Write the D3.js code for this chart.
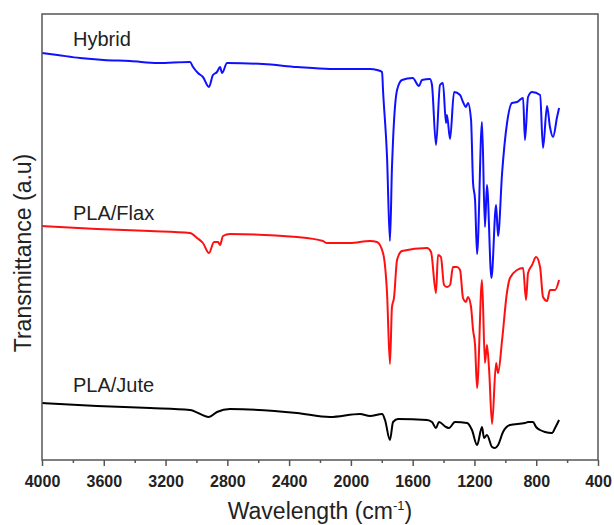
<!DOCTYPE html>
<html><head><meta charset="utf-8">
<script src="https://cdn.jsdelivr.net/npm/d3@7/dist/d3.min.js"></script>
<style>body{margin:0;background:#fff}svg{display:block}</style>
</head><body><svg id="c" width="614" height="525"></svg>
<script>
const seriesNames = ["Hybrid", "PLA/Flax", "PLA/Jute"];
const seriesColors = ["#1010ff", "#ff1010", "#000000"];
const majorTicks = [4000, 3600, 3200, 2800, 2400, 2000, 1600, 1200, 800, 400];
const minorTicks = [3800, 3400, 3000, 2600, 2200, 1800, 1400, 1000, 600];

const hybridWn = [4000,3900,3754,3600,3430,3250,3042,3022,2990,2958,2919,2893,2867,2847,2834,2802,2569,2349,2135,1876,1831,1798,1792,1766,1747,1734,1727,1701,1669,1600,1559,1540,1488,1475,1449,1423,1404,1384,1378,1358,1332,1293,1274,1255,1242,1222,1209,1196,1183,1151,1132,1119,1090,1060,1047,1021,989,957,924,885,873,853,827,775,756,730,711,691,665,652];
const hybridT = [40.7,40.5,40.2,40.0,39.9,39.7,39.8,39.3,38.7,38.3,37.3,38.5,38.8,39.3,38.7,39.7,39.6,39.3,39.1,39.1,39.0,38.8,37.0,30.3,21.9,29.3,32.0,37.0,38.0,38.2,37.4,38.0,38.1,37.5,31.5,37.5,37.7,33.7,34.5,32.1,36.8,36.5,35.8,35.3,35.7,34.0,27.7,26.0,20.6,33.8,23.3,27.5,18.2,25.5,22.4,28.7,33.7,35.7,35.8,36.2,32.0,36.3,36.8,36.5,31.2,35.4,33.3,32.3,34.3,35.2];

const flaxWn = [4000,3644,3300,3042,2996,2958,2919,2886,2860,2847,2828,2783,2349,2181,2155,2006,1876,1831,1792,1766,1747,1734,1721,1701,1669,1507,1481,1449,1436,1417,1397,1378,1358,1339,1313,1293,1274,1255,1242,1222,1209,1196,1183,1151,1132,1119,1105,1086,1060,1047,1021,989,970,924,885,866,853,827,801,775,756,730,711,678,652];
const flaxT = [23.4,23.1,22.9,22.7,22.2,21.7,20.7,21.8,21.8,21.5,22.4,22.6,22.3,21.9,21.7,21.7,21.9,21.8,20.7,16.7,9.6,15.3,16.2,20.0,20.9,21.2,20.8,16.7,20.5,20.3,17.5,17.3,17.5,19.3,19.3,19.0,16.2,15.8,16.3,15.3,13.0,11.5,7.2,18.0,9.7,11.5,9.0,3.6,9.7,8.7,12.0,16.8,18.2,19.0,19.2,16.0,18.7,19.5,20.3,19.3,16.3,15.9,17.0,17.0,18.0];

const juteWn = [4000,3644,3300,3042,2919,2867,2783,2349,2135,1941,1876,1798,1779,1747,1727,1695,1507,1475,1449,1430,1384,1365,1326,1248,1216,1183,1151,1138,1119,1086,1067,1047,1015,970,873,853,821,801,775,743,698,678,652];
const juteT = [5.7,5.4,5.2,5.0,4.3,4.8,5.1,4.7,4.3,4.6,4.4,4.6,4.0,2.0,3.8,4.1,4.0,3.8,3.2,3.8,3.3,3.2,3.8,3.7,3.0,1.5,3.3,2.2,2.5,1.3,1.2,1.5,2.8,3.5,3.7,3.8,3.8,3.3,3.0,2.8,2.7,3.2,4.0];

const labelBaselines = [46, 220, 392];

const svg = d3.select("#c");
const L = 42, R = 598, T = 14, B = 460;
const x = d3.scaleLinear().domain([4000, 400]).range([L, R]);
const y = d3.scaleLinear().domain([0, 44.6]).range([B, T]);

const series = [
  {name: seriesNames[0], color: seriesColors[0], wn: hybridWn, t: hybridT},
  {name: seriesNames[1], color: seriesColors[1], wn: flaxWn, t: flaxT},
  {name: seriesNames[2], color: seriesColors[2], wn: juteWn, t: juteT}
];

const line = d3.line().x(d => x(d[0])).y(d => y(d[1])).curve(d3.curveMonotoneX);
series.forEach((s, i) => {
  const pts = s.wn.map((w, j) => [w, s.t[j]]);
  svg.append("path").attr("d", line(pts)).attr("fill", "none")
    .attr("stroke", s.color).attr("stroke-width", 2).attr("stroke-linejoin", "round");
  svg.append("text").attr("x", 73).attr("y", labelBaselines[i]).text(s.name)
    .attr("font-family", "Liberation Sans, Arial, sans-serif").attr("font-size", 20).attr("fill", "#222");
});

// frame
svg.append("rect").attr("x", L).attr("y", T).attr("width", R - L).attr("height", B - T)
  .attr("fill", "none").attr("stroke", "#555").attr("stroke-width", 1.5);

// x axis
const ax = svg.append("g").attr("transform", `translate(0,${B})`)
  .call(d3.axisBottom(x).tickValues(majorTicks).tickSize(6).tickPadding(10).tickFormat(d3.format("d")));
ax.select(".domain").remove();
ax.selectAll("line").attr("stroke", "#555").attr("stroke-width", 1.5);
ax.selectAll("text").attr("font-family", "Liberation Sans, Arial, sans-serif").attr("font-size", 16)
  .attr("font-weight", "bold").attr("fill", "#222");
const axm = svg.append("g").attr("transform", `translate(0,${B})`)
  .call(d3.axisBottom(x).tickValues(minorTicks).tickSize(3).tickFormat(""));
axm.select(".domain").remove();
axm.selectAll("line").attr("stroke", "#555").attr("stroke-width", 1.5);

// axis titles
const xt = svg.append("text").attr("x", (L + R) / 2).attr("y", 519).attr("text-anchor", "middle")
  .attr("font-family", "Liberation Sans, Arial, sans-serif").attr("font-size", 23).attr("fill", "#222");
xt.append("tspan").text("Wavelength (cm");
xt.append("tspan").text("-1").attr("font-size", 13).attr("dy", -9);
xt.append("tspan").text(")").attr("dy", 9);

svg.append("text").attr("transform", `translate(31,${(T + B) / 2 + 16}) rotate(-90)`)
  .attr("text-anchor", "middle").text("Transmittance (a.u)")
  .attr("font-family", "Liberation Sans, Arial, sans-serif").attr("font-size", 23).attr("fill", "#222");
</script></body></html>
